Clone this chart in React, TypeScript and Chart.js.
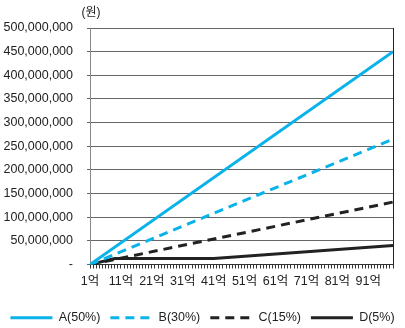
import React, { useEffect, useRef } from "react";
import { Chart, registerables } from "chart.js";

Chart.register(...registerables);

// x axis: amount in 억, one tick per 억, labelled every 10
const xMin = 1;
const xMax = 99;
const xLabelled = [1, 11, 21, 31, 41, 51, 61, 71, 81, 91];

// y axis (원)
const yMax = 500000000;
const yStep = 50000000;

// series: x in 억, y in 원
const seriesNames = ["A(50%)", "B(30%)", "C(15%)", "D(5%)"];
const aX = [1, 99];
const aY = [0, 450000000];
const bX = [1, 99];
const bY = [0, 265000000];
const cX = [1, 99];
const cY = [0, 132000000];
const dX = [1, 9, 41, 99];
const dY = [0, 12500000, 12500000, 40000000];

const BLUE = "#0ab2ea";
const DARK = "#222222";
const FONT = "'Liberation Sans', Arial, 'Noto Sans CJK KR', sans-serif";

const toPoints = (xs: number[], ys: number[]) => xs.map((x, i) => ({ x, y: ys[i] }));

const framePlugin = {
  id: "frame",
  afterDraw(chart: any) {
    const { ctx, chartArea } = chart;
    ctx.save();
    ctx.strokeStyle = DARK;
    ctx.lineWidth = 1;
    ctx.beginPath();
    ctx.moveTo(Math.round(chartArea.right) + 0.5, chartArea.top);
    ctx.lineTo(Math.round(chartArea.right) + 0.5, chartArea.bottom);
    ctx.stroke();
    ctx.fillStyle = DARK;
    ctx.font = `12px ${FONT}`;
    ctx.textAlign = "center";
    ctx.textBaseline = "middle";
    ctx.fillText("(원)", chartArea.left + 1, chartArea.top - 15);
    ctx.restore();
  },
};

export default function App() {
  const ref = useRef<HTMLCanvasElement>(null);

  useEffect(() => {
    if (!ref.current) return;
    const chart = new Chart(ref.current, {
      type: "line",
      data: {
        datasets: [
          {
            label: seriesNames[0],
            data: toPoints(aX, aY),
            borderColor: BLUE,
            backgroundColor: BLUE,
            borderWidth: 3,
            pointRadius: 0,
          },
          {
            label: seriesNames[1],
            data: toPoints(bX, bY),
            borderColor: BLUE,
            backgroundColor: BLUE,
            borderWidth: 3,
            borderDash: [9, 6],
            pointRadius: 0,
          },
          {
            label: seriesNames[2],
            data: toPoints(cX, cY),
            borderColor: DARK,
            backgroundColor: DARK,
            borderWidth: 3,
            borderDash: [9, 6],
            pointRadius: 0,
          },
          {
            label: seriesNames[3],
            data: toPoints(dX, dY),
            borderColor: DARK,
            backgroundColor: DARK,
            borderWidth: 3,
            pointRadius: 0,
          },
        ],
      },
      options: {
        animation: false,
        responsive: false,
        maintainAspectRatio: false,
        layout: { padding: { left: 0, right: 0, top: 28, bottom: -6 } },
        plugins: {
          tooltip: { enabled: false },
          legend: {
            position: "bottom",
            labels: {
              usePointStyle: true,
              pointStyle: "line",
              pointStyleWidth: 42,
              padding: 10,
              color: DARK,
              font: { size: 12.5, family: FONT },
              generateLabels: (ch: any) =>
                Chart.defaults.plugins.legend.labels.generateLabels(ch).map((item: any, i: number) => {
                  const ds: any = ch.data.datasets[i];
                  return {
                    ...item,
                    pointStyle: "line",
                    lineDash: ds.borderDash || [],
                    lineWidth: ds.borderWidth,
                    strokeStyle: ds.borderColor,
                    fillStyle: ds.borderColor,
                  };
                }),
            },
          },
        },
        scales: {
          x: {
            type: "linear",
            min: xMin,
            max: xMax,
            offset: false,
            grid: {
              drawOnChartArea: false,
              drawTicks: true,
              tickLength: 4,
              color: "#333",
            },
            border: { color: "#333" },
            title: { display: true, text: " ", font: { size: 5 }, padding: 0 },
            ticks: {
              stepSize: 1,
              maxTicksLimit: 200,
              autoSkip: false,
              maxRotation: 0,
              padding: 6,
              color: DARK,
              font: { size: 12.5, family: FONT },
              callback: (v: any) => (xLabelled.includes(Number(v)) ? `${v}억` : ""),
            },
          },
          y: {
            min: 0,
            max: yMax,
            grid: { color: "#666", tickLength: 3 },
            border: { color: "#888" },
            afterFit: (scale: any) => {
              scale.width = 90;
            },
            ticks: {
              stepSize: yStep,
              padding: 14,
              color: DARK,
              font: { size: 12.5, family: FONT },
              callback: (v: any) => (Number(v) === 0 ? "-" : Number(v).toLocaleString("en-US")),
            },
          },
          yRight: {
            position: "right",
            min: 0,
            max: yMax,
            grid: { drawOnChartArea: false, drawTicks: false },
            border: { display: false },
            ticks: { display: false },
            afterFit: (scale: any) => {
              scale.width = 12;
            },
          },
        },
      },
      plugins: [framePlugin],
    });
    return () => chart.destroy();
  }, []);

  return (
    <div style={{ position: "absolute", left: 0, top: 0, width: 405, height: 328, background: "#fff" }}>
      <canvas ref={ref} width={405} height={328} />
    </div>
  );
}
